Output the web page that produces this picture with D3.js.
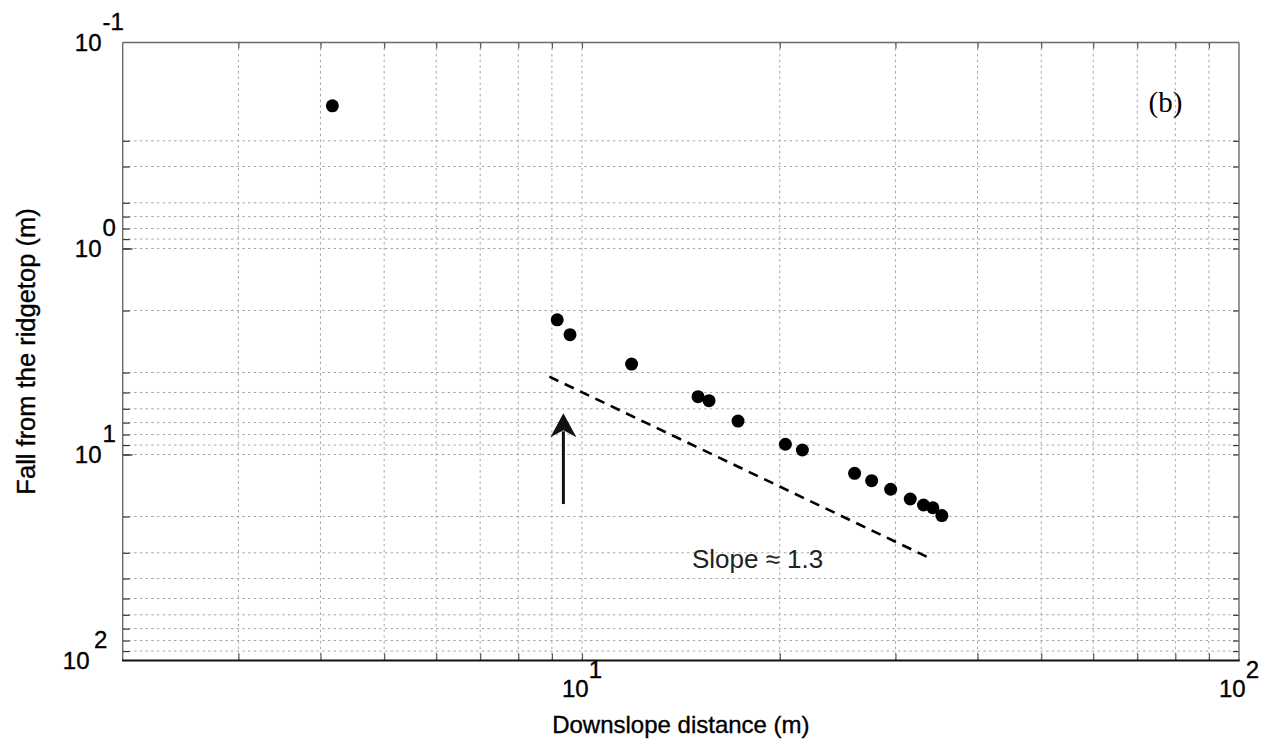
<!DOCTYPE html>
<html><head><meta charset="utf-8">
<script src="https://cdn.jsdelivr.net/npm/d3@7"></script>
<style>html,body{margin:0;padding:0;background:#fff;} svg{display:block;}</style>
</head><body><svg id="chart" width="1270" height="745"></svg>
<script>
// ---- data ----
const distance = [4.17, 9.17, 9.59, 11.9, 15.02, 15.61, 17.28, 20.4, 21.65, 26.0, 27.6, 29.5, 31.6, 33.1, 34.2, 35.3];
const fall     = [0.203, 2.22, 2.62, 3.64, 5.24, 5.48, 6.88, 8.92, 9.51, 12.34, 13.4, 14.75, 16.44, 17.59, 18.13, 19.8];
const slopeLineX = [8.92, 33.6];
const slopeLineY = [4.19, 31.5];
const arrowX = 9.37, arrowFrom = 17.4, arrowTo = 6.31;
const slopeLabel = "Slope \u2248 1.3", slopeLabelX = 14.7, slopeLabelY = 35.6;
const panelLabel = "(b)", panelLabelX = 77.3, panelLabelY = 0.217;
const xMajorTicks = [10, 100];
const xMajorExp = ["1", "2"];
const yMajorTicks = [0.1, 1, 10, 100];
const yMajorExp = ["-1", "0", "1", "2"];
const xGrid = [3, 4, 5, 6, 7, 8, 9, 10, 20, 30, 40, 50, 60, 70, 80, 90];
const yGrid = [0.3, 0.4, 0.6, 0.7, 0.8, 0.9, 1, 2, 4, 5, 6, 7, 8, 9, 10, 20, 30, 40, 50, 60, 70, 80, 90];
const xDomain = [2, 100], yDomain = [0.1, 100];
const xTitle = "Downslope distance (m)", yTitle = "Fall from the ridgetop (m)";

// ---- layout ----
const L = 122.7, R = 1239, T = 42.5, B = 660.5;
const FONT = "'Liberation Sans', Arial, Helvetica, sans-serif";
const svg = d3.select("#chart");
const x = d3.scaleLog().domain(xDomain).range([L, R]);
const y = d3.scaleLog().domain(yDomain).range([T, B]);

// grid
const grid = svg.append("g").attr("stroke", "#a6a6a6").attr("stroke-width", 1).attr("stroke-dasharray", "2.5,3.2");
grid.selectAll("line.gx").data(xGrid).join("line").attr("class", "gx")
  .attr("x1", d => x(d)).attr("x2", d => x(d)).attr("y1", T).attr("y2", B);
grid.selectAll("line.gy").data(yGrid).join("line").attr("class", "gy")
  .attr("x1", L).attr("x2", R).attr("y1", d => y(d)).attr("y2", d => y(d));

// ticks via axes
function styleTicks(g, col) {
  g.select(".domain").remove();
  g.selectAll(".tick line").attr("stroke", col).attr("stroke-width", 1.2);
  g.selectAll(".tick text").remove();
}
svg.append("g").attr("transform", `translate(0,${B})`)
  .call(d3.axisBottom(x).tickValues(xGrid).tickSize(-7).tickFormat("")).call(g => styleTicks(g, "#555"));
svg.append("g").attr("transform", `translate(0,${T})`)
  .call(d3.axisTop(x).tickValues(xGrid).tickSize(-6).tickFormat("")).call(g => styleTicks(g, "#555"));
svg.append("g").attr("transform", `translate(${L},0)`)
  .call(d3.axisLeft(y).tickValues(yGrid).tickSize(-7).tickFormat("")).call(g => styleTicks(g, "#333"));
svg.append("g").attr("transform", `translate(${L},0)`)
  .call(d3.axisLeft(y).tickValues([1, 10]).tickSize(-10).tickFormat("")).call(g => styleTicks(g, "#333"));
svg.append("g").attr("transform", `translate(${R},0)`)
  .call(d3.axisRight(y).tickValues(yGrid).tickSize(-6).tickFormat("")).call(g => styleTicks(g, "#333"));

// frame
svg.append("line").attr("x1", L).attr("x2", L).attr("y1", T).attr("y2", B).attr("stroke", "#6a6a6a").attr("stroke-width", 1.4);
svg.append("line").attr("x1", R).attr("x2", R).attr("y1", T).attr("y2", B).attr("stroke", "#6a6a6a").attr("stroke-width", 1.4);
svg.append("line").attr("x1", L).attr("x2", R).attr("y1", T).attr("y2", T).attr("stroke", "#6a6a6a").attr("stroke-width", 1.4);
svg.append("line").attr("x1", L - 0.7).attr("x2", R + 0.7).attr("y1", B).attr("y2", B).attr("stroke", "#111").attr("stroke-width", 2.2);

// tick labels (MATLAB-style base + raised exponent)
const yl = svg.append("g").attr("font-family", FONT).attr("font-size", 24).attr("fill", "#000")
  .attr("stroke", "#000").attr("stroke-width", 0.35);
yMajorTicks.forEach((v, i) => {
  const last = i === yMajorTicks.length - 1;
  yl.append("text").attr("x", last ? 89.5 : 101.5).attr("y", y(v) + 8.5).attr("text-anchor", "end").text("10");
  yl.append("text").attr("x", last ? 94 : 102.5).attr("y", y(v) - 13).text(yMajorExp[i]);
});
const xl = svg.append("g").attr("font-family", FONT).attr("font-size", 24).attr("fill", "#000")
  .attr("stroke", "#000").attr("stroke-width", 0.35).attr("text-anchor", "middle");
xMajorTicks.forEach((v, i) => {
  const t = xl.append("text").attr("x", x(v)).attr("y", 697);
  t.append("tspan").text("10");
  t.append("tspan").attr("dy", -19).text(xMajorExp[i]);
});

// titles
svg.append("text").attr("x", (L + R) / 2).attr("y", 733).attr("text-anchor", "middle")
  .attr("font-family", FONT).attr("font-size", 24).attr("stroke", "#000").attr("stroke-width", 0.35).text(xTitle);
svg.append("text").attr("transform", `translate(35,${(T + B) / 2}) rotate(-90)`).attr("text-anchor", "middle")
  .attr("font-family", FONT).attr("font-size", 25.5).attr("stroke", "#000").attr("stroke-width", 0.35).text(yTitle);

// slope reference line
svg.append("line")
  .attr("x1", x(slopeLineX[0])).attr("y1", y(slopeLineY[0]))
  .attr("x2", x(slopeLineX[1])).attr("y2", y(slopeLineY[1]))
  .attr("stroke", "#000").attr("stroke-width", 2.6).attr("stroke-dasharray", "10,7");

// arrow
const ax = x(arrowX), ay0 = y(arrowFrom), ay1 = y(arrowTo);
svg.append("line").attr("x1", ax).attr("x2", ax).attr("y1", ay0).attr("y2", ay1 + 18)
  .attr("stroke", "#111").attr("stroke-width", 3);
svg.append("path")
  .attr("d", `M${ax},${ay1} L${ax + 13},${ay1 + 24} L${ax},${ay1 + 17} L${ax - 13},${ay1 + 24} Z`)
  .attr("fill", "#111");

// points
svg.append("g").selectAll("circle").data(distance).join("circle")
  .attr("cx", d => x(d)).attr("cy", (d, i) => y(fall[i])).attr("r", 6.5).attr("fill", "#000");

// annotations
svg.append("text").attr("x", x(slopeLabelX)).attr("y", y(slopeLabelY))
  .attr("font-family", FONT).attr("font-size", 26).attr("fill", "#222").text(slopeLabel);
svg.append("text").attr("x", x(panelLabelX)).attr("y", y(panelLabelY)).attr("text-anchor", "middle")
  .attr("font-family", "'Liberation Serif', 'Times New Roman', serif").attr("font-size", 29).text(panelLabel);
</script>
</body></html>
